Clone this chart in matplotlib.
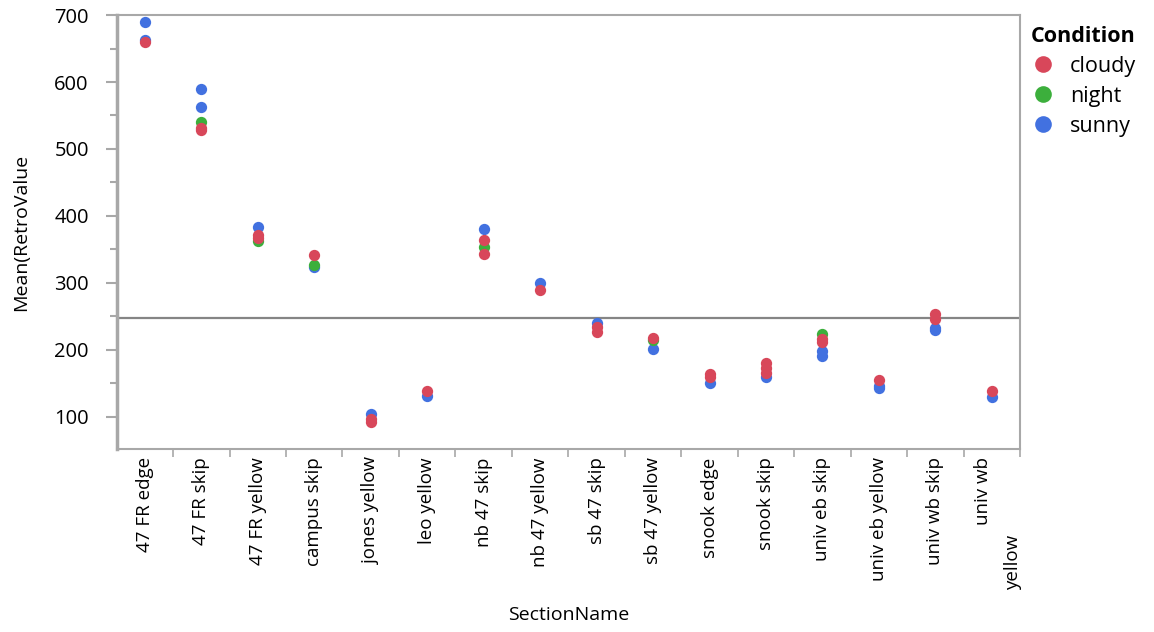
import numpy as np
import matplotlib.pyplot as plt
import matplotlib.transforms as mtransforms
from matplotlib.ticker import MultipleLocator

plt.rcParams['font.family'] = ['Open Sans', 'DejaVu Sans']

sections = ['47 FR edge', '47 FR skip', '47 FR yellow', 'campus skip', 'jones yellow',
            'leo yellow', 'nb 47 skip', 'nb 47 yellow', 'sb 47 skip', 'sb 47 yellow',
            'snook edge', 'snook skip', 'univ eb skip', 'univ eb yellow', 'univ wb skip',
            'univ wb yellow']
# the last label is wrapped in two pieces in the original
tick_labels = sections[:-1] + ['univ wb']
wrap_rest = 'yellow'

sunny_sec = ['47 FR edge', '47 FR edge', '47 FR skip', '47 FR skip', '47 FR yellow',
             'campus skip', 'jones yellow', 'leo yellow', 'nb 47 skip', 'nb 47 yellow',
             'sb 47 skip', 'sb 47 yellow', 'snook edge', 'snook skip', 'univ eb skip',
             'univ eb skip', 'univ eb yellow', 'univ eb yellow', 'univ wb skip',
             'univ wb skip', 'univ wb yellow']
sunny_val = [689, 662, 589, 562, 383, 324, 103.5, 131, 380, 299.5, 240, 201, 150, 159,
             199, 191, 146, 143, 233, 230, 129]

night_sec = ['47 FR skip', '47 FR yellow', 'campus skip', 'nb 47 skip', 'sb 47 yellow',
             'univ eb skip']
night_val = [540, 362, 326, 354, 215, 223]

cloudy_sec = ['47 FR edge', '47 FR skip', '47 FR skip', '47 FR yellow', '47 FR yellow',
              'campus skip', 'jones yellow', 'jones yellow', 'leo yellow', 'nb 47 skip',
              'nb 47 skip', 'nb 47 yellow', 'sb 47 skip', 'sb 47 skip', 'sb 47 yellow',
              'snook edge', 'snook edge', 'snook skip', 'snook skip', 'snook skip',
              'univ eb skip', 'univ eb skip', 'univ eb yellow', 'univ wb skip',
              'univ wb skip', 'univ wb yellow']
cloudy_val = [659, 531, 528, 371, 367, 341, 97.5, 92.5, 139, 364, 343, 289.5, 234, 226, 218,
              163.5, 159, 180, 173, 165.5, 216, 212, 155, 253, 246, 138]

overall_mean = 248

colors = {'cloudy': '#D8475A', 'night': '#3CAF3C', 'sunny': '#4271E0'}
axis_gray = '#A8A8A8'

fig = plt.figure(figsize=(11.54, 6.32), dpi=100)
ax = fig.add_axes([0.101, 0.2896, 0.783, 0.6866])

pos = {s: i for i, s in enumerate(sections)}
series = [('sunny', sunny_sec, sunny_val), ('night', night_sec, night_val),
          ('cloudy', cloudy_sec, cloudy_val)]
for name, secs, vals in series:
    ax.scatter([pos[s] for s in secs], vals, s=66, color=colors[name], zorder=3,
               linewidths=0)

ax.axhline(overall_mean, color='#858585', lw=1.6, zorder=2)

ax.set_xlim(-0.5, len(sections) - 0.5)
ax.set_ylim(52, 700)
ax.yaxis.set_major_locator(MultipleLocator(100))
ax.yaxis.set_minor_locator(MultipleLocator(50))
ax.tick_params(axis='y', which='both', direction='out', color=axis_gray, width=1.5,
               labelsize=14.5, labelcolor='black')
ax.tick_params(axis='y', which='major', length=8, pad=12)
ax.tick_params(axis='y', which='minor', length=5)

ax.set_xticks(np.arange(len(sections)))
ax.set_xticklabels(tick_labels, rotation=90, fontsize=13.5, va='top', ha='center')
ax.tick_params(axis='x', which='major', length=0, pad=6)
ax.set_xticks(np.arange(len(sections)) + 0.5, minor=True)
ax.tick_params(axis='x', which='minor', direction='out', length=6, color=axis_gray, width=1.2)

# shift the wrapped label left and put its second piece beside/below it
last = ax.get_xticklabels()[-1]
last.set_transform(last.get_transform() + mtransforms.ScaledTranslation(-9 / 100, 0, fig.dpi_scale_trans))
ax.annotate(wrap_rest, xy=(len(sections) - 1, 0), xycoords=('data', 'axes fraction'),
            xytext=(21, -86), textcoords='offset pixels', rotation=90,
            va='top', ha='center', fontsize=13.5)

for side in ['top', 'right', 'bottom']:
    ax.spines[side].set_color(axis_gray)
    ax.spines[side].set_linewidth(1.5)
ax.spines['left'].set_color(axis_gray)
ax.spines['left'].set_linewidth(2.5)

ax.set_ylabel('Mean(RetroValue', fontsize=14, labelpad=17)
ax.set_xlabel('SectionName', fontsize=14, labelpad=18)

handles = [plt.Line2D([], [], marker='o', ls='', ms=12, color=colors[c], mec='none')
           for c in ['cloudy', 'night', 'sunny']]
leg = ax.legend(handles, ['cloudy', 'night', 'sunny'], title='Condition',
                loc='upper left', bbox_to_anchor=(1.0, 1.0), frameon=False,
                fontsize=15.5, title_fontproperties={'weight': 'bold', 'size': 15.5},
                handletextpad=0.7, labelspacing=0.42, borderaxespad=0.2,
                handlelength=1.1, borderpad=0.3)
leg._legend_box.align = 'left'

plt.savefig('out.png', dpi=100)
